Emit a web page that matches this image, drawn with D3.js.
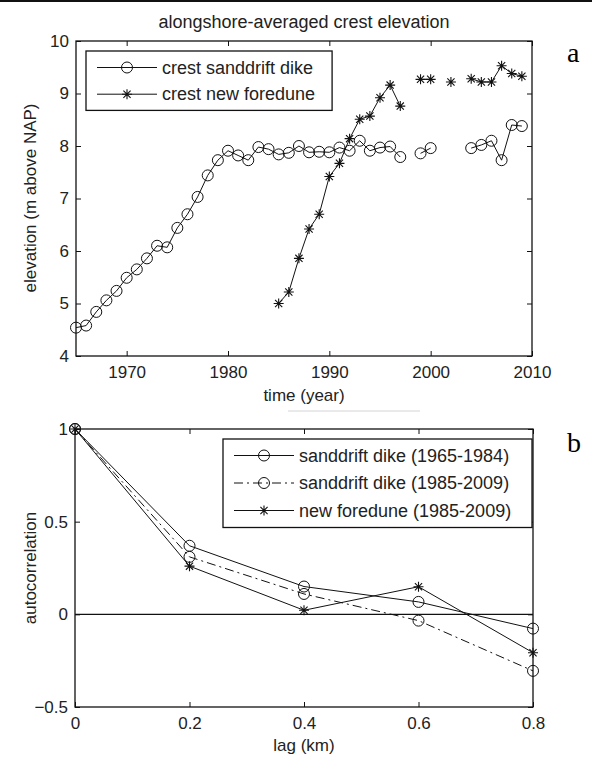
<!DOCTYPE html>
<html>
<head>
<meta charset="utf-8">
<script src="https://cdn.jsdelivr.net/npm/d3@7"></script>
<style>
  body { margin: 0; background: #fff; }
  svg { display: block; }
  text { font-family: "Liberation Sans", Arial, sans-serif; fill: #222; }
</style>
</head>
<body>
<div id="chart"></div>
<script>
// panel a: crest elevation per year (null = no survey)
var years = d3.range(1965, 2010);
var sanddrift = [4.54, 4.58, 4.84, 5.06, 5.24, 5.49, 5.65, 5.86, 6.10, 6.07,
                 6.44, 6.70, 7.03, 7.44, 7.73, 7.91, 7.82, 7.73, 7.98, 7.94,
                 7.84, 7.87, 8.00, 7.88, 7.89, 7.88, 7.97, 7.91, 8.10, 7.91,
                 7.97, 7.99, 7.79, null, 7.86, 7.96, null, null, null, 7.96,
                 8.02, 8.10, 7.73, 8.40, 8.38];
var foreduneYears = d3.range(1985, 2010);
var foredune = [5.00, 5.22, 5.86, 6.42, 6.70, 7.42, 7.67, 8.14, 8.51, 8.57,
                8.92, 9.16, 8.76, null, 9.27, 9.27, null, 9.22, null, 9.28,
                9.22, 9.22, 9.53, 9.38, 9.33];
var yearTicks = [1970, 1980, 1990, 2000, 2010];
var elevTicks = [4, 5, 6, 7, 8, 9, 10];

// panel b: autocorrelation vs lag
var lags = [0, 0.2, 0.4, 0.6, 0.8];
var acDike1 = [1, 0.37, 0.15, 0.067, -0.077];
var acDike2 = [1, 0.31, 0.11, -0.034, -0.305];
var acDune = [1, 0.26, 0.022, 0.149, -0.207];
var lagTicks = [0, 0.2, 0.4, 0.6, 0.8];
var acTicks = [-0.5, 0, 0.5, 1];

var W = 592, H = 758;
var svg = d3.select("#chart").append("svg")
            .attr("width", W)
            .attr("height", H);

// thin black rule at the very top
svg.append("rect").attr("x", 0).attr("y", 0).attr("width", W).attr("height", 2).attr("fill", "#111");
// faint leftover rule under panel a
svg.append("line").attr("x1", 288).attr("x2", 420).attr("y1", 411).attr("y2", 411)
   .attr("stroke", "#d4d4d4").attr("stroke-width", 1);

function circleMark(g, px, py) {
  g.append("circle").attr("cx", px).attr("cy", py).attr("r", 5.5)
   .attr("fill", "none").attr("stroke", "#111").attr("stroke-width", 1);
}
function starMark(g, px, py) {
  var s = 5, d = 3.6;
  var p = "M" + (px - s) + "," + py + "H" + (px + s) +
          "M" + px + "," + (py - s) + "V" + (py + s) +
          "M" + (px - d) + "," + (py - d) + "L" + (px + d) + "," + (py + d) +
          "M" + (px - d) + "," + (py + d) + "L" + (px + d) + "," + (py - d);
  g.append("path").attr("d", p).attr("stroke", "#111").attr("stroke-width", 1.1).attr("fill", "none");
}

function drawAxes(x, y, xt, yt, xfmt, yfmt) {
  var x0 = x.range()[0], x1 = x.range()[1];
  var y0 = y.range()[0], y1 = y.range()[1];
  var fix = function(g) {
    g.select(".domain").remove();
    g.selectAll("line").attr("stroke", "#111");
    g.selectAll("text").attr("font-size", 17).attr("font-family", "Liberation Sans, Arial, sans-serif").attr("fill", "#222");
  };
  svg.append("g").attr("transform", "translate(0," + y0 + ")")
     .call(d3.axisBottom(x).tickValues(xt).tickFormat(xfmt).tickSize(-5).tickPadding(10)).call(fix);
  svg.append("g").attr("transform", "translate(0," + y1 + ")")
     .call(d3.axisTop(x).tickValues(xt).tickFormat("").tickSize(-5)).call(fix);
  svg.append("g").attr("transform", "translate(" + x0 + ",0)")
     .call(d3.axisLeft(y).tickValues(yt).tickFormat(yfmt).tickSize(-5).tickPadding(7)).call(fix);
  svg.append("g").attr("transform", "translate(" + x1 + ",0)")
     .call(d3.axisRight(y).tickValues(yt).tickFormat("").tickSize(-5)).call(fix);
  svg.append("rect").attr("x", x0).attr("y", y1)
     .attr("width", x1 - x0).attr("height", y0 - y1)
     .attr("fill", "none").attr("stroke", "#111").attr("stroke-width", 1.3);
}

function legend(items, left, top, rowH, rightEdge) {
  var g = svg.append("g");
  var box = g.append("rect").attr("fill", "#fff").attr("stroke", "#111").attr("stroke-width", 1.3);
  var maxX = 0;
  items.forEach(function(it, i) {
    var cy = top + 16.5 + i * rowH;
    g.append("line").attr("x1", left + 11).attr("x2", left + 71)
     .attr("y1", cy).attr("y2", cy).attr("stroke", "#111").attr("stroke-width", 1)
     .attr("stroke-dasharray", it.dash || null);
    if (it.mark === "o") circleMark(g, left + 41, cy); else starMark(g, left + 41, cy);
    var t = g.append("text").attr("x", left + 76).attr("y", cy + 6)
     .attr("font-size", 18).text(it.label);
    maxX = Math.max(maxX, t.node().getBBox().x + t.node().getBBox().width);
  });
  var right = rightEdge || maxX + 17;
  box.attr("x", left).attr("y", top).attr("width", right - left)
     .attr("height", rowH * items.length + 6);
}

// ---------- panel a ----------
var xa = d3.scaleLinear().domain([1965, 2010]).range([76, 532]);
var ya = d3.scaleLinear().domain([4, 10]).range([356, 41]);
drawAxes(xa, ya, yearTicks, elevTicks, d3.format("d"), d3.format("d"));

var lineA = d3.line().defined(function(d) { return d[1] != null; })
              .x(function(d) { return xa(d[0]); }).y(function(d) { return ya(d[1]); });
var dikeData = years.map(function(yr, i) { return [yr, sanddrift[i]]; });
var duneData = foreduneYears.map(function(yr, i) { return [yr, foredune[i]]; });

var ga = svg.append("g");
ga.append("path").datum(dikeData).attr("d", lineA).attr("fill", "none").attr("stroke", "#111").attr("stroke-width", 1);
ga.append("path").datum(duneData).attr("d", lineA).attr("fill", "none").attr("stroke", "#111").attr("stroke-width", 1);
dikeData.filter(function(d) { return d[1] != null; }).forEach(function(d) { circleMark(ga, xa(d[0]), ya(d[1])); });
duneData.filter(function(d) { return d[1] != null; }).forEach(function(d) { starMark(ga, xa(d[0]), ya(d[1])); });

legend([{label: "crest sanddrift dike", mark: "o"},
        {label: "crest new foredune", mark: "*"}], 86, 51, 26.7);

svg.append("text").attr("x", 304).attr("y", 28).attr("text-anchor", "middle")
   .attr("font-size", 18).text("alongshore-averaged crest elevation");
svg.append("text").attr("x", 304).attr("y", 401).attr("text-anchor", "middle")
   .attr("font-size", 17).text("time (year)");
svg.append("text").attr("transform", "translate(36,198) rotate(-90)").attr("text-anchor", "middle")
   .attr("font-size", 17).text("elevation (m above NAP)");
svg.append("text").attr("x", 567).attr("y", 62).attr("font-size", 28)
   .style("font-family", "Liberation Serif, Times New Roman, serif").style("fill", "#000").text("a");

// ---------- panel b ----------
var xb = d3.scaleLinear().domain([0, 0.8]).range([75, 533]);
var yb = d3.scaleLinear().domain([-0.5, 1]).range([707, 429]);
drawAxes(xb, yb, lagTicks, acTicks, function(d) { return d === 0 ? "0" : d3.format("")(d); },
         function(d) { return d3.format("")(d); });

svg.append("line").attr("x1", xb(0)).attr("x2", xb(0.8)).attr("y1", yb(0)).attr("y2", yb(0))
   .attr("stroke", "#111").attr("stroke-width", 1.2);

var lineB = d3.line().x(function(d) { return xb(d[0]); }).y(function(d) { return yb(d[1]); });
var gb = svg.append("g");
var seriesB = [
  {vals: acDike1, mark: "o", dash: null},
  {vals: acDike2, mark: "o", dash: "9,4,2,4"},
  {vals: acDune, mark: "*", dash: null}
];
seriesB.forEach(function(s) {
  var pts = lags.map(function(l, i) { return [l, s.vals[i]]; });
  gb.append("path").datum(pts).attr("d", lineB).attr("fill", "none")
    .attr("stroke", "#111").attr("stroke-width", 1).attr("stroke-dasharray", s.dash);
  pts.forEach(function(d) {
    if (s.mark === "o") circleMark(gb, xb(d[0]), yb(d[1])); else starMark(gb, xb(d[0]), yb(d[1]));
  });
});

legend([{label: "sanddrift dike (1965-1984)", mark: "o"},
        {label: "sanddrift dike (1985-2009)", mark: "o", dash: "9,4,2,4"},
        {label: "new foredune (1985-2009)", mark: "*"}], 223, 439, 27.5, 532);

svg.append("text").attr("x", 304).attr("y", 751).attr("text-anchor", "middle")
   .attr("font-size", 17).text("lag (km)");
svg.append("text").attr("transform", "translate(36,568) rotate(-90)").attr("text-anchor", "middle")
   .attr("font-size", 17).text("autocorrelation");
svg.append("text").attr("x", 567).attr("y", 452).attr("font-size", 28)
   .style("font-family", "Liberation Serif, Times New Roman, serif").style("fill", "#000").text("b");
</script>
</body>
</html>
